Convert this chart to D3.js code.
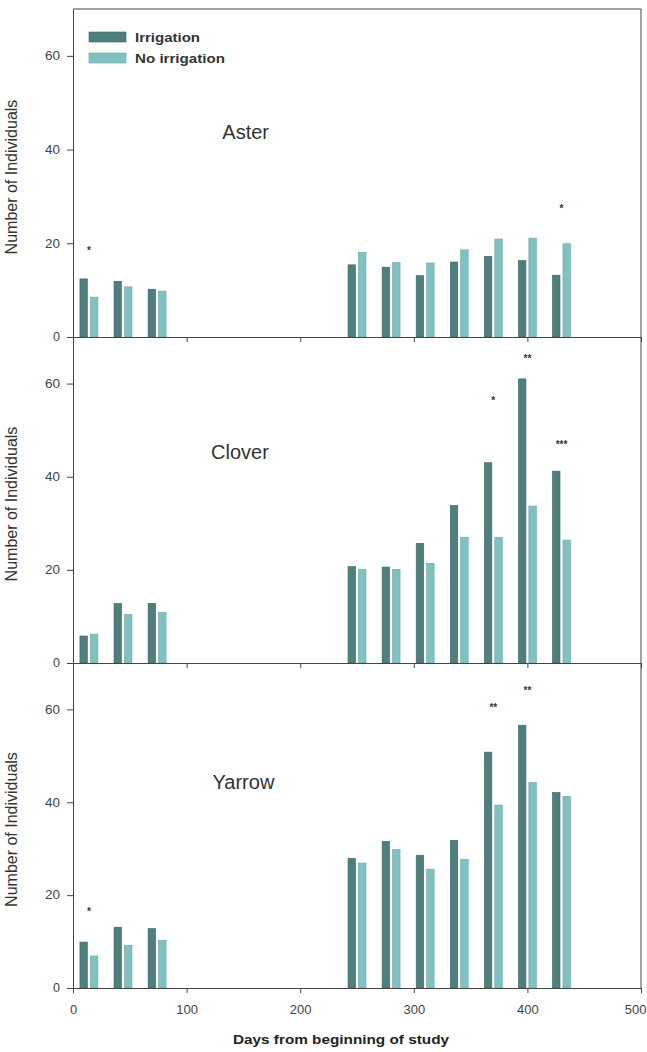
<!DOCTYPE html>
<html><head><meta charset="utf-8">
<script src="https://cdn.jsdelivr.net/npm/d3@7"></script>
<style>body{margin:0;background:#fff}svg{display:block}</style></head>
<body><svg id="c" width="647" height="1052"></svg>
<script>
// ---- data ----
const days = [14, 44, 74, 250, 280, 310, 340, 370, 400, 430];
const species = ["Aster", "Clover", "Yarrow"];
const seriesNames = ["Irrigation", "No irrigation"];
const asterIrr  = [12.4, 11.9, 10.2, 15.4, 14.9, 13.1, 16.0, 17.2, 16.3, 13.2];
const asterNo   = [8.5, 10.7, 9.8, 18.1, 15.9, 15.8, 18.6, 20.9, 21.1, 19.9];
const cloverIrr = [5.8, 12.8, 12.8, 20.7, 20.6, 25.7, 33.8, 43.0, 61.0, 41.2];
const cloverNo  = [6.2, 10.4, 10.9, 20.1, 20.1, 21.4, 27.0, 27.0, 33.7, 26.4];
const yarrowIrr = [9.9, 13.1, 12.8, 27.9, 31.6, 28.6, 31.8, 50.8, 56.6, 42.1];
const yarrowNo  = [6.9, 9.2, 10.3, 26.9, 29.8, 25.6, 27.7, 39.4, 44.3, 41.3];
const asterSig  = ["*", "", "", "", "", "", "", "", "", "*"];
const cloverSig = ["", "", "", "", "", "", "", "*", "**", "***"];
const yarrowSig = ["*", "", "", "", "", "", "", "**", "**", ""];
const asterSigAt  = [19, null, null, null, null, null, null, null, null, 28];
const cloverSigAt = [null, null, null, null, null, null, null, 57, 66, 47.5];
const yarrowSigAt = [17, null, null, null, null, null, null, 61, 64.7, null];
const xTicks = [0, 100, 200, 300, 400, 500];
const yTicks = [0, 20, 40, 60];

const panels = [
  {name: species[0], irr: asterIrr, no: asterNo, sig: asterSig, sigAt: asterSigAt},
  {name: species[1], irr: cloverIrr, no: cloverNo, sig: cloverSig, sigAt: cloverSigAt},
  {name: species[2], irr: yarrowIrr, no: yarrowNo, sig: yarrowSig, sigAt: yarrowSigAt}
];

// ---- layout ----
const svg = d3.select("#c");
const L = 73, R = 641;
const tops = [9, 337, 663], bottoms = [337, 663, 988];
const labelPos = [[152, 132], [147, 452], [150, 782]];
const cIrr = "#4f7f7d", cNo = "#80c1c1";
const axisCol = "#444", font = "'Liberation Sans', Arial, sans-serif";
const x = d3.scaleLinear().domain([0, 500]).range([L, R]);
const off = 4.6, half = 3.3;

panels.forEach((p, i) => {
  const y = d3.scaleLinear().domain([0, 70]).range([bottoms[i], tops[i]]);
  const g = svg.append("g");
  // bars
  g.selectAll(".bi").data(days).join("rect")
    .attr("x", (d) => x(d - off - half)).attr("width", x(2 * half) - x(0))
    .attr("y", (d, j) => y(p.irr[j])).attr("height", (d, j) => y(0) - y(p.irr[j]))
    .attr("fill", cIrr).attr("stroke", "#3d6563").attr("stroke-width", 0.6);
  g.selectAll(".bn").data(days).join("rect")
    .attr("x", (d) => x(d + off - half)).attr("width", x(2 * half) - x(0))
    .attr("y", (d, j) => y(p.no[j])).attr("height", (d, j) => y(0) - y(p.no[j]))
    .attr("fill", cNo).attr("stroke", "#6aa5a5").attr("stroke-width", 0.6);
  // significance
  g.selectAll(".sig").data(days).join("text")
    .filter((d, j) => p.sig[j] !== "")
    .attr("x", (d) => x(d)).attr("y", (d) => y(p.sigAt[days.indexOf(d)]) + 6)
    .attr("text-anchor", "middle").attr("font-family", font).attr("font-size", 10)
    .attr("font-weight", "bold").attr("fill", "#333")
    .text((d) => p.sig[days.indexOf(d)]);
  // y axis
  const ya = d3.axisLeft(y).tickValues(yTicks).tickSize(6).tickPadding(7).tickSizeOuter(0);
  const yg = g.append("g").attr("transform", `translate(${L},0)`).call(ya);
  yg.selectAll("text").attr("font-family", font).attr("font-size", 12).attr("fill", "#444")
    .attr("textLength", (d) => d === 0 ? 7 : 15).attr("lengthAdjust", "spacingAndGlyphs");
  yg.selectAll("line,path").attr("stroke", axisCol);
  // x axis
  const xa = d3.axisBottom(x).tickValues(xTicks).tickSize(5).tickSizeOuter(0)
    .tickFormat(i === 2 ? d3.format("d") : () => "").tickPadding(12);
  const xg = g.append("g").attr("transform", `translate(0,${bottoms[i]})`).call(xa);
  xg.selectAll("text").attr("font-family", font).attr("font-size", 13).attr("fill", "#444")
    .attr("text-anchor", (d) => d === 500 ? "end" : "middle")
    .attr("dx", (d) => d === 500 ? 5 : 0);
  xg.selectAll("line,path").attr("stroke", axisCol);
  // y title
  g.append("text").attr("transform", `translate(17,${(tops[i] + bottoms[i]) / 2 + 4}) rotate(-90)`)
    .attr("text-anchor", "middle").attr("font-family", font).attr("font-size", 16)
    .attr("fill", "#333").text("Number of Individuals");
  // panel label
  g.append("text").attr("x", x(labelPos[i][0])).attr("y", labelPos[i][1] + 7)
    .attr("text-anchor", "middle").attr("font-family", font).attr("font-size", 20)
    .attr("fill", "#333").text(p.name);
});

// frame top & right
svg.append("path").attr("d", `M${L},${tops[0]}H${R}V${bottoms[2]}`)
  .attr("fill", "none").attr("stroke", axisCol);

// x title
svg.append("text").attr("x", 341).attr("y", 1044).attr("text-anchor", "middle")
  .attr("font-family", font).attr("font-size", 12).attr("font-weight", "bold").attr("fill", "#222")
  .attr("textLength", 216).attr("lengthAdjust", "spacingAndGlyphs")
  .text("Days from beginning of study");

// legend
const leg = svg.append("g");
seriesNames.forEach((s, k) => {
  leg.append("rect").attr("x", 89).attr("y", 32 + k * 21).attr("width", 37).attr("height", 10)
    .attr("fill", k === 0 ? cIrr : cNo).attr("stroke", k === 0 ? "#3d6563" : "#6aa5a5").attr("stroke-width", 0.6);
  leg.append("text").attr("x", 135).attr("y", 42 + k * 21).attr("font-family", font)
    .attr("font-size", 12).attr("font-weight", "bold").attr("fill", "#333")
    .attr("textLength", k === 0 ? 65 : 90).attr("lengthAdjust", "spacingAndGlyphs").text(s);
});
</script></body></html>
